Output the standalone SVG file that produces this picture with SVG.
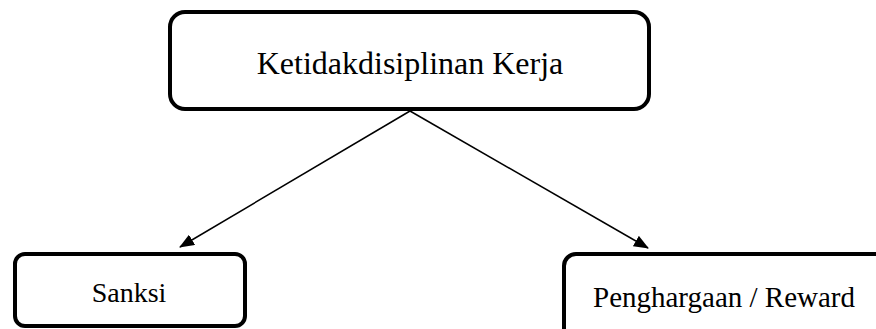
<svg xmlns="http://www.w3.org/2000/svg" width="876" height="329" viewBox="0 0 876 329">
  <style>
    .box { fill: #ffffff; stroke: #000000; stroke-width: 4; }
    .label { font-family: "Liberation Serif", "Times New Roman", serif; fill: #000000; text-anchor: middle; }
    .edge { stroke: #000000; stroke-width: 1.5; fill: none; marker-end: url(#arrow); }
  </style>
  <defs>
    <marker id="arrow" viewBox="0 0 15 12" refX="14" refY="6" markerWidth="15" markerHeight="12" markerUnits="userSpaceOnUse" orient="auto">
      <path d="M0,0 L15,6 L0,12 Z" fill="#000000"/>
    </marker>
  </defs>
  <rect width="876" height="329" fill="#ffffff"/>

  <g id="connectors">
    <path class="edge" d="M410,111 L180,247"/>
    <path class="edge" d="M410,111 L648,248"/>
  </g>

  <g id="node-ketidakdisiplinan">
    <rect class="box" x="170" y="12" width="479" height="97" rx="15" ry="15"/>
    <text class="label" x="410" y="74" font-size="32">Ketidakdisiplinan Kerja</text>
  </g>

  <g id="node-sanksi">
    <rect class="box" x="15" y="254" width="230" height="72" rx="10" ry="10"/>
    <text class="label" x="129" y="302" font-size="28">Sanksi</text>
  </g>

  <g id="node-reward">
    <rect class="box" x="564" y="254" width="330" height="90" rx="12" ry="12"/>
    <text class="label" x="724" y="307" font-size="29">Penghargaan / Reward</text>
  </g>
</svg>
